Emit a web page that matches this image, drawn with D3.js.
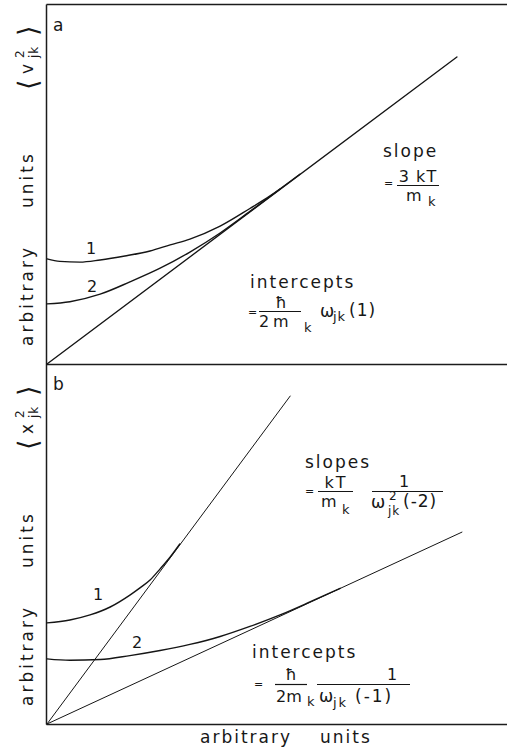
<!DOCTYPE html>
<html>
<head>
<meta charset="utf-8">
<script src="https://cdn.jsdelivr.net/npm/d3@7"></script>
<style>
  html, body { margin: 0; padding: 0; background: #fff; }
  svg { display: block; }
  text { font-family: "DejaVu Sans", sans-serif; fill: #171717; }
</style>
</head>
<body>
<svg id="chart" width="507" height="748"></svg>
<script>
// ---- data (arbitrary units) ----
// Panel a: <v^2_jk> versus temperature
const lineA   = [[0, 0], [89.5, 85.3]];            // asymptote, slope 3kT/m_k
const curveA1 = [[0, 29.2], [2.8, 28.5], [7.2, 28.3], [11.6, 28.9], [17.0, 30.0],
                 [22.5, 31.4], [26.9, 33.1], [31.2, 34.7], [37.8, 38.3], [44.3, 43.2],
                 [48.7, 46.7], [55.2, 52.7]];
const curveA2 = [[0, 16.7], [5.0, 17.3], [11.6, 19.4], [18.1, 22.8], [24.7, 26.6],
                 [31.2, 31.1], [37.8, 36.4], [44.3, 42.4], [50.9, 48.6]];
const curveLabelsA = ["1", "2"];

// Panel b: <x^2_jk> versus temperature
const lineB1  = [[0, 0], [53.1, 91.1]];            // asymptote of curve 1
const lineB2  = [[0, 0], [90.6, 53.3]];            // asymptote of curve 2
const curveB1 = [[0, 28.1], [5.0, 28.9], [9.4, 30.3], [13.8, 32.5], [18.1, 35.8],
                 [20.3, 37.8], [22.5, 40.0], [24.7, 43.1], [26.9, 46.4], [29.0, 50.0]];
const curveB2 = [[0, 18.1], [5.0, 17.7], [11.6, 17.9], [18.1, 19.0], [24.7, 20.4],
                 [31.2, 22.1], [37.8, 24.3], [44.3, 27.1], [50.9, 30.3], [57.4, 33.9],
                 [64.0, 37.7]];
const curveLabelsB = ["1", "2"];

const panelLetters = ["a", "b"];
const axisWords = ["arbitrary", "units"];

// ---- scales ----
const svg = d3.select("#chart");
const x  = d3.scaleLinear().domain([0, 100]).range([47, 505]);
const yA = d3.scaleLinear().domain([0, 100]).range([364, 4]);
const yB = d3.scaleLinear().domain([0, 100]).range([724, 364]);

const ink = "#151515";

// ---- frame: axes without ticks ----
const xFrame = d3.scaleLinear().domain([x.invert(46), x.invert(507)]).range([46, 507]);
const yFrame = d3.scaleLinear().domain([0, 1]).range([724, 4]);

function styleAxis(g) {
  g.select(".domain").attr("stroke", "#1c1c1c").attr("stroke-width", 1.5);
}
svg.append("g").attr("transform", `translate(0,${yA(100)})`)
  .call(d3.axisTop(xFrame).tickValues([]).tickSizeOuter(0)).call(styleAxis);
svg.append("g").attr("transform", `translate(0,${yA(0)})`)
  .call(d3.axisBottom(xFrame).tickValues([]).tickSizeOuter(0)).call(styleAxis);
svg.append("g").attr("transform", `translate(0,${yB(0)})`)
  .call(d3.axisBottom(xFrame).tickValues([]).tickSizeOuter(0)).call(styleAxis);
svg.append("g").attr("transform", `translate(46,0)`)
  .call(d3.axisLeft(yFrame).tickValues([]).tickSizeOuter(0)).call(styleAxis);

// ---- marks ----
function drawPath(data, yScale, w, curve) {
  const gen = d3.line().x(d => x(d[0])).y(d => yScale(d[1])).curve(curve || d3.curveLinear);
  svg.append("path").datum(data).attr("d", gen)
    .attr("fill", "none").attr("stroke", ink).attr("stroke-width", w)
    .attr("stroke-linejoin", "round").attr("stroke-linecap", "round");
}
drawPath(lineA, yA, 1.35);
drawPath(curveA1, yA, 1.4, d3.curveMonotoneX);
drawPath(curveA2, yA, 1.4, d3.curveMonotoneX);

drawPath(lineB1, yB, 1.0);
drawPath(lineB2, yB, 1.0);
drawPath(curveB1, yB, 1.4, d3.curveMonotoneX);
drawPath(curveB2, yB, 1.4, d3.curveMonotoneX);

// ---- text helpers ----
function t(parent, px, py, s, size, opts = {}) {
  return parent.append("text")
    .attr("x", px).attr("y", py)
    .attr("font-size", size)
    .attr("letter-spacing", opts.ls != null ? opts.ls : 2)
    .attr("text-anchor", opts.anchor || "start")
    .text(s);
}
function rule(x1, x2, yy) {
  svg.append("line").attr("x1", x1).attr("x2", x2).attr("y1", yy).attr("y2", yy)
    .attr("stroke", ink).attr("stroke-width", 1.2);
}

// panel letters and curve numbers
t(svg, 53, 31, panelLetters[0], 17);
t(svg, 53, 390, panelLetters[1], 17);
t(svg, 91, 254, curveLabelsA[0], 16, { anchor: "middle", ls: 0 });
t(svg, 92, 292, curveLabelsA[1], 16, { anchor: "middle", ls: 0 });
t(svg, 98, 600, curveLabelsB[0], 16, { anchor: "middle", ls: 0 });
t(svg, 137, 648, curveLabelsB[1], 16, { anchor: "middle", ls: 0 });

// rotated y labels
function yLabel(bx, by, sym) {
  const g = svg.append("g").attr("transform", `translate(${bx},${by}) rotate(-90)`);
  t(g, 0, 0, axisWords[0], 17, { ls: 3 });
  t(g, 138, 0, axisWords[1], 17, { ls: 3 });
  t(g, 256, 4, "\u27E8", 27, { ls: 0 });
  t(g, 272, 0, sym, 17, { ls: 0 });
  t(g, 288, -9, "2", 12, { ls: 0 });
  t(g, 288, 5, "jk", 12, { ls: 1 });
  t(g, 310, 4, "\u27E9", 27, { ls: 0 });
}
yLabel(33, 346, "v");
yLabel(33, 706, "x");

// x label
t(svg, 200, 743, axisWords[0], 17);
t(svg, 320, 743, axisWords[1], 17);

// panel a annotations
t(svg, 383, 157, "slope", 17);
t(svg, 384, 187, "=", 11, { ls: 0 });
t(svg, 418, 182, "3 kT", 16, { anchor: "middle", ls: 1 });
rule(397, 439, 185.5);
t(svg, 406, 201, "m", 16, { ls: 0 });
t(svg, 428, 206, "k", 13, { ls: 0 });

t(svg, 250, 288, "intercepts", 17);
t(svg, 248, 316, "=", 11, { ls: 0 });
t(svg, 281, 308, "\u0127", 16, { anchor: "middle", ls: 0 });
rule(259, 301, 311.5);
t(svg, 259, 327, "2", 16, { ls: 0 });
t(svg, 273, 327, "m", 16, { ls: 0 });
t(svg, 304, 332, "k", 13, { ls: 0 });
t(svg, 320, 317, "\u03C9", 17, { ls: 0 });
t(svg, 333, 321, "jk", 13, { ls: 1 });
t(svg, 349, 316, "(1)", 17, { ls: 1 });

// panel b annotations
t(svg, 305, 468, "slopes", 17);
t(svg, 305, 495, "=", 11, { ls: 0 });
t(svg, 336, 488, "kT", 16, { anchor: "middle", ls: 2 });
rule(318, 353, 491.5);
t(svg, 321, 507, "m", 16, { ls: 0 });
t(svg, 342, 514, "k", 13, { ls: 0 });
t(svg, 404, 487, "1", 16, { anchor: "middle", ls: 0 });
rule(372, 443, 491.5);
t(svg, 371, 508, "\u03C9", 17, { ls: 0 });
t(svg, 389, 500, "2", 12, { ls: 0 });
t(svg, 388, 515, "jk", 12, { ls: 1 });
t(svg, 403, 507, "(-2)", 17, { ls: 1 });

t(svg, 252, 658, "intercepts", 17);
t(svg, 254, 688, "=", 11, { ls: 0 });
t(svg, 291, 680, "\u0127", 16, { anchor: "middle", ls: 0 });
rule(275, 307, 684.5);
t(svg, 276, 702, "2m", 16, { ls: 0 });
t(svg, 307, 706, "k", 13, { ls: 0 });
t(svg, 392, 680, "1", 16, { anchor: "middle", ls: 0 });
rule(317, 410, 684.5);
t(svg, 319, 702, "\u03C9", 17, { ls: 0 });
t(svg, 333, 707, "jk", 13, { ls: 2 });
t(svg, 355, 702, "(-1)", 17, { ls: 2 });
</script>
</body>
</html>
